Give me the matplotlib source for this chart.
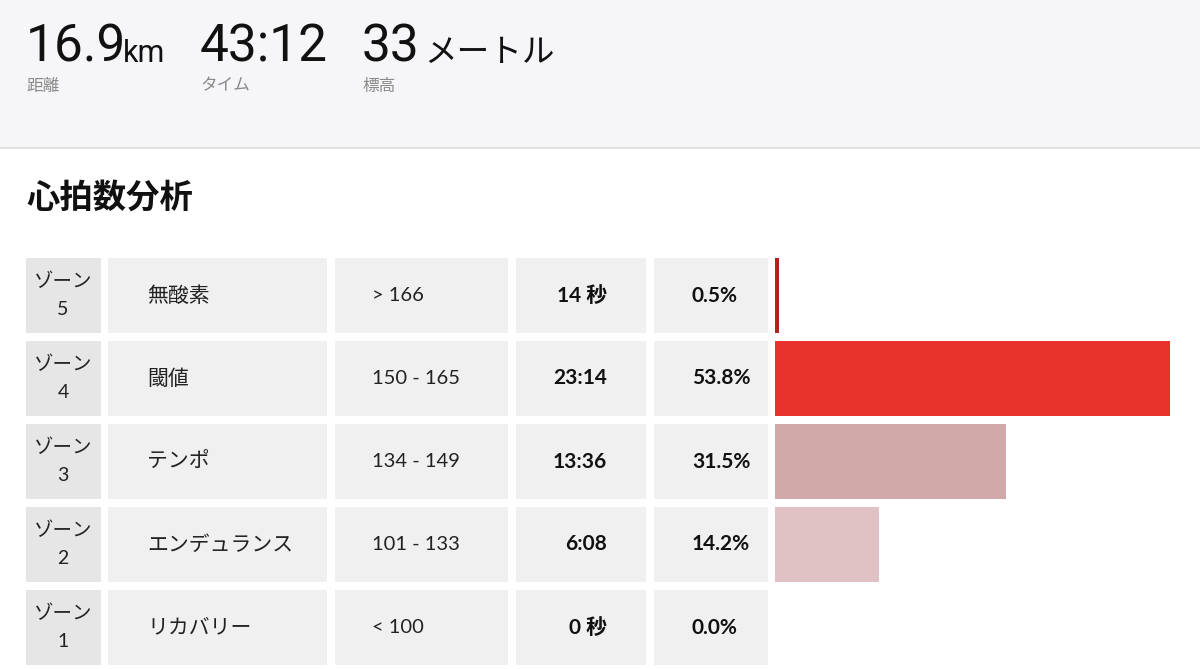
import matplotlib
matplotlib.use("Agg")
import matplotlib.pyplot as plt
from matplotlib.patches import Rectangle

plt.rcParams['font.family'] = ['Lato', 'Noto Sans CJK JP', 'DejaVu Sans']

# summary header
stat_values = ['16.9', '43:12', '33']
stat_units = ['km', '', 'メートル']
stat_labels = ['距離', 'タイム', '標高']

# heart rate zones (top row = zone 5)
zone_nums = ['5', '4', '3', '2', '1']
zone_names = ['無酸素', '閾値', 'テンポ', 'エンデュランス', 'リカバリー']
hr_ranges = ['> 166', '150 - 165', '134 - 149', '101 - 133', '< 100']
zone_times = ['14 秒', '23:14', '13:36', '6:08', '0 秒']
zone_pcts = [0.5, 53.8, 31.5, 14.2, 0.0]
bar_colors = ['#b0221e', '#e8322c', '#d1a9a9', '#e0c2c4', '#e0c2c4']

W, H = 1200, 669
fig = plt.figure(figsize=(W / 100, H / 100), dpi=100)
ax = fig.add_axes([0, 0, 1, 1])
ax.set_xlim(0, W)
ax.set_ylim(H, 0)
ax.axis('off')

# header band
ax.add_patch(Rectangle((0, 0), W, 147, color='#f6f6f8', lw=0))
ax.plot([0, W], [147.5, 147.5], color='#dcdcdc', lw=1.2)

cjk = ['Noto Sans CJK JP', 'DejaVu Sans']
num_font = ['Roboto', 'Noto Sans CJK JP']
stat_x = [26, 200, 362]
unit_x = [123, 0, 424]
for i in range(3):
    ax.text(stat_x[i], 62, stat_values[i], fontsize=37, family=num_font,
            va='baseline', ha='left', color='#111111')
    if stat_units[i]:
        ufont = cjk if stat_units[i] != 'km' else num_font
        usize = 23.5 if stat_units[i] != 'km' else 22
        ax.text(unit_x[i], 62, stat_units[i], fontsize=usize, family=ufont,
                va='baseline', ha='left', color='#111111')
    ax.text(stat_x[i], 86, stat_labels[i], fontsize=12, family=cjk,
            va='center', ha='left', color='#8a8a8a')

# title
ax.text(26, 198, '心拍数分析', fontsize=24, family=cjk, fontweight='bold',
        va='center', ha='left', color='#111111')

# table cells
row_top0, row_pitch, row_h = 258, 83, 75
cols = [(26, 101, '#e6e6e6'), (108, 327, '#f0f0f0'), (335, 508, '#f0f0f0'),
        (516, 646, '#f0f0f0'), (654, 768, '#f0f0f0')]
centers = []
for r in range(len(zone_nums)):
    top = row_top0 + r * row_pitch
    cy = top + row_h / 2
    centers.append(cy)
    for x0, x1, c in cols:
        ax.add_patch(Rectangle((x0, top), x1 - x0, row_h, color=c, lw=0))
    ax.text(63, cy - 14, 'ゾーン', fontsize=14, family=cjk, ha='center',
            va='center', color='#222222')
    ax.text(63, cy + 14, zone_nums[r], fontsize=14, family=['Lato'] + cjk,
            ha='center', va='center', color='#222222')
    ax.text(147, cy, zone_names[r], fontsize=15, family=cjk, ha='left',
            va='center', color='#222222')
    ax.text(372, cy, hr_ranges[r], fontsize=14.5, family=['Lato'] + cjk,
            ha='left', va='center', color='#222222')
    ax.text(607, cy, zone_times[r], fontsize=15, family=['Lato'] + cjk,
            fontweight='bold', ha='right', va='center', color='#111111')
    ax.text(692, cy, f'{zone_pcts[r]:.1f}%', fontsize=15, family=['Lato'] + cjk,
            fontweight='bold', ha='left', va='center', color='#111111')

# bars
bx0, by0, by1 = 775, 258, 665
bax = fig.add_axes([bx0 / W, (H - by1) / H, (W - bx0) / W, (by1 - by0) / H])
bax.set_xlim(0, 57.9)
bax.set_ylim(by1, by0)
bax.barh(centers, zone_pcts, height=row_h, color=bar_colors, lw=0)
bax.axis('off')

fig.savefig('out.png', dpi=100, facecolor='white')
